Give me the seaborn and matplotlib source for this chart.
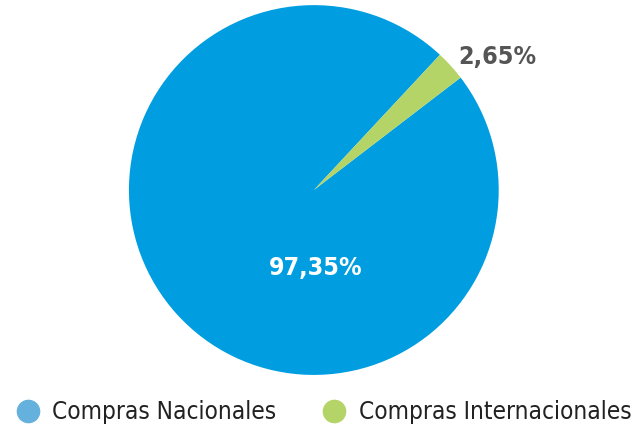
import matplotlib
matplotlib.use('Agg')
import matplotlib.pyplot as plt
from matplotlib.lines import Line2D
import seaborn as sns

sns.set_theme(style='white')
plt.rcParams['font.family'] = ['DejaVu Sans']
plt.rcParams['font.stretch'] = 'condensed'

# data
categories = ['Compras Nacionales', 'Compras Internacionales']
shares = [97.35, 2.65]
pie_colors = ['#009ee0', '#b5d468']
legend_colors = ['#65b1dd', '#b5d468']

fig = plt.figure(figsize=(6.34, 4.28), dpi=100)
ax = fig.add_axes([0.203, 0.124, 0.584, 0.864])

wedges, _ = ax.pie(shares, colors=pie_colors, startangle=47.0, counterclock=True,
                   wedgeprops={'linewidth': 0})
ax.set_xlim(-1, 1)
ax.set_ylim(-1, 1)
ax.set_aspect('equal')

fmt = lambda v: f'{v:.2f}'.replace('.', ',') + '%'
ax.text(0.01, -0.42, fmt(shares[0]), color='white', fontsize=18, fontweight='bold',
        ha='center', va='center', clip_on=False)
ax.text(0.99, 0.72, fmt(shares[1]), color='#555555', fontsize=18, fontweight='bold',
        ha='center', va='center', clip_on=False)

handles = [Line2D([0], [0], marker='o', linestyle='', markersize=16,
                  markerfacecolor=c, markeredgecolor=c) for c in legend_colors]
fig.legend(handles, categories, loc='center', bbox_to_anchor=(0.51, 0.037),
           ncol=2, frameon=False, fontsize=17.5, handletextpad=0.5, columnspacing=1.9,
           labelcolor='#222222', handlelength=1.0)

fig.savefig('out.png', dpi=100)
